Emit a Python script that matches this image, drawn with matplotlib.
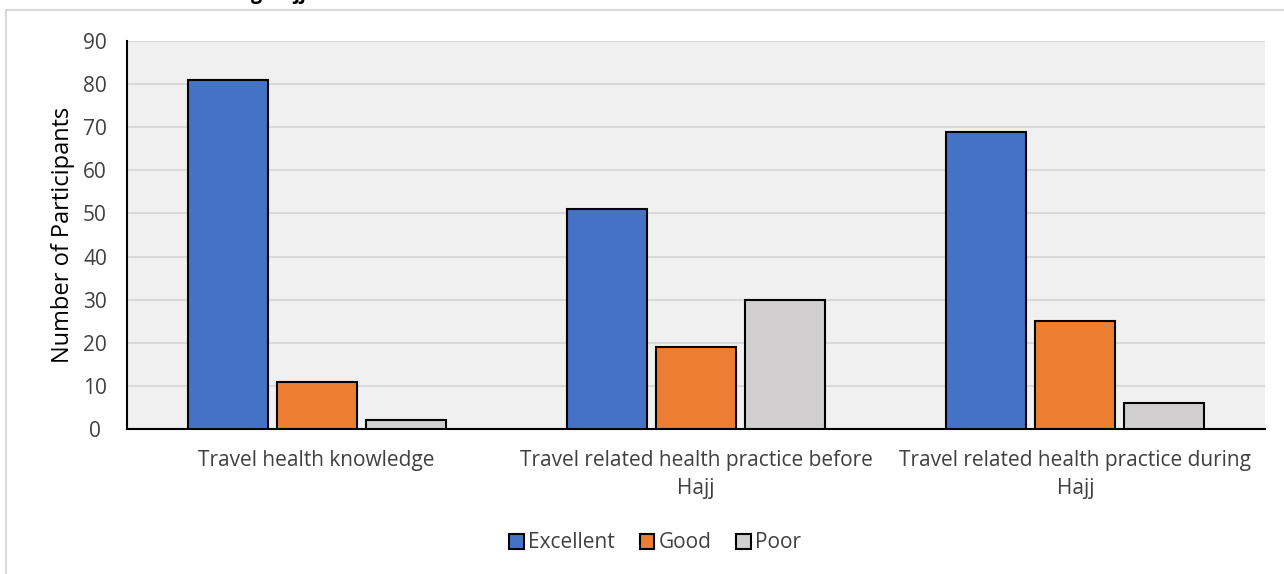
import matplotlib
matplotlib.use("Agg")
import matplotlib.pyplot as plt
import numpy as np

# ========= Data =========
categories = [
    "Travel health knowledge",
    "Travel related health practice before\nHajj",
    "Travel related health practice during\nHajj",
]
series_names = ["Excellent", "Good", "Poor"]
excellent = [81, 51, 69]
good = [11, 19, 25]
poor = [2, 30, 6]
yticks = [0, 10, 20, 30, 40, 50, 60, 70, 80, 90]

colors = ["#4472c4", "#ed7d31", "#d0cece"]

plt.rcParams["font.family"] = ["Open Sans", "DejaVu Sans"]

fig = plt.figure(figsize=(12.84, 5.74), dpi=100)

# outer chart frame (light grey, top and left edges visible)
fig.add_artist(plt.Line2D([0.005, 1.0], [0.982, 0.982], color="#d9d9d9", lw=1.5,
                          transform=fig.transFigure))
fig.add_artist(plt.Line2D([0.005, 0.005], [0.0, 0.982], color="#d9d9d9", lw=1.5,
                          transform=fig.transFigure))

# caption above the frame; only its descenders fall inside the canvas
fig.text(306 / 1284, 1 + 1.5 / 574, "Travel health status during Hajj",
         ha="right", va="baseline", fontsize=14, fontweight="bold", color="black")

ax = fig.add_axes([127 / 1284, 1 - 429 / 574, (1265 - 127) / 1284, (429 - 41) / 574])
ax.set_facecolor("#f0f0f0")

x = np.arange(len(categories))
slot = 0.235
width = 0.211
for i, (name, vals) in enumerate(zip(series_names, [excellent, good, poor])):
    ax.bar(x + (i - 1) * slot, vals, width=width, color=colors[i],
           edgecolor="black", linewidth=1.5, label=name, zorder=3)

ax.set_xlim(-0.5, 2.5)
ax.set_ylim(0, 90)
ax.set_yticks(yticks)
ax.yaxis.grid(True, color="#d9d9d9", linewidth=1.5, zorder=0)
ax.set_axisbelow(True)

ax.set_xticks(x, labels=categories)
for lbl in ax.get_xticklabels():
    lbl.set_linespacing(1.45)
ax.tick_params(axis="x", length=0, pad=15, labelsize=15, labelcolor="#404040")
ax.tick_params(axis="y", length=0, pad=23, labelsize=15, labelcolor="#404040")
for lbl in ax.get_yticklabels():
    lbl.set_horizontalalignment("center")

for side in ("top", "right"):
    ax.spines[side].set_visible(False)
ax.spines["left"].set_color("black")
ax.spines["left"].set_linewidth(1.5)
ax.spines["bottom"].set_color("black")
ax.spines["bottom"].set_linewidth(1.5)

ax.set_ylabel("Number of Participants", fontsize=17, color="black", labelpad=6)

fig.legend(loc="center", bbox_to_anchor=(655 / 1284, 1 - 543 / 574), ncol=3,
           frameon=False, fontsize=15, handlelength=0.7, handleheight=0.7,
           handletextpad=0.2, columnspacing=1.2,
           labelcolor="#404040")

fig.savefig("out.png", dpi=100)
